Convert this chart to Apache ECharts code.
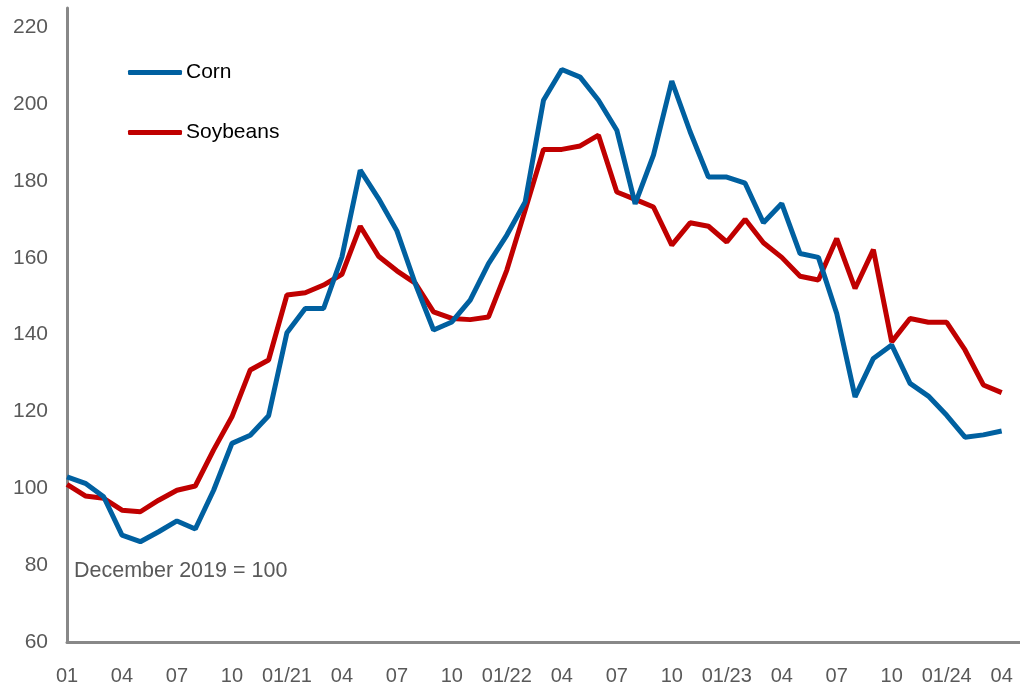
<!DOCTYPE html>
<html>
<head>
<meta charset="utf-8">
<script src="https://cdn.jsdelivr.net/npm/echarts@6/dist/echarts.min.js"></script>
<style>
  html, body { margin: 0; padding: 0; background: #fff; }
  #chart { width: 1020px; height: 687px; }
</style>
</head>
<body>
<div id="chart"></div>
<script>
// monthly, 01/2020 .. 04/2024 (December 2019 = 100)
var months = [
  '01','02','03','04','05','06','07','08','09','10','11','12',
  '01/21','02','03','04','05','06','07','08','09','10','11','12',
  '01/22','02','03','04','05','06','07','08','09','10','11','12',
  '01/23','02','03','04','05','06','07','08','09','10','11','12',
  '01/24','02','03','04'
];

var corn = [
  103, 101.3, 97.8, 87.8, 86.1, 88.7, 91.5, 89.4, 99.5, 111.7, 113.8, 118.9,
  140.5, 146.8, 146.8, 160.2, 182.8, 175.4, 167, 153.3, 141.2, 143.3, 149, 158.5,
  165.9, 174.5, 201, 209, 207, 201, 193.2, 174, 186.7, 206, 192.8, 181,
  181, 179.4, 169.1, 174.1, 161.1, 160.1, 145.5, 123.8, 133.8, 137.3, 127.3, 124,
  119, 113.3, 113.9, 114.9
];

var soybeans = [
  101, 98, 97.4, 94.3, 93.9, 96.9, 99.5, 100.6, 110, 118.6, 130.8, 133.4,
  150.3, 150.9, 152.9, 155.7, 168.2, 160.4, 156.6, 153.4, 145.9, 144.2, 143.9, 144.6,
  156.8, 172.4, 188.2, 188.2, 189.1, 191.9, 177.1, 175.2, 173.2, 163.3, 169.1, 168.2,
  164.1, 170, 163.9, 160.1, 155.2, 154.2, 165, 152, 162.1, 138.1, 144.2, 143.2,
  143.2, 136, 126.9, 124.9
];

var yTicks = [60, 80, 100, 120, 140, 160, 180, 200, 220];

var chart = echarts.init(document.getElementById('chart'));
var grey = '#595959';

var option = {
  backgroundColor: '#fff',
  animation: false,
  grid: { left: 67, right: 0, top: 8, bottom: 45 },
  legend: {
    orient: 'vertical',
    left: 128,
    top: 62,
    padding: 0,
    icon: 'roundRect',
    itemWidth: 54,
    itemHeight: 5,
    itemGap: 39,
    textStyle: { fontFamily: 'Liberation Sans', fontSize: 21, color: '#000', padding: [0, 0, 0, -1] },
    data: ['Corn', 'Soybeans']
  },
  xAxis: {
    type: 'category',
    boundaryGap: false,
    data: months.concat(['']),
    axisLine: { lineStyle: { color: '#888', width: 3 } },
    axisTick: { show: false },
    axisLabel: {
      interval: 2,
      color: grey,
      fontFamily: 'Liberation Sans',
      fontSize: 20,
      margin: 24
    },
    splitLine: { show: false }
  },
  yAxis: {
    type: 'value',
    min: 60,
    max: 225,
    interval: 20,
    axisLine: { show: true, lineStyle: { color: '#888', width: 3 } },
    axisTick: { show: false },
    splitLine: { show: false },
    axisLabel: {
      color: grey,
      fontFamily: 'Liberation Sans',
      fontSize: 21,
      margin: 19,
      formatter: function (v) { return yTicks.indexOf(v) >= 0 ? String(v) : ''; }
    }
  },
  graphic: [{
    type: 'text',
    left: 74,
    top: 560,
    style: { text: 'December 2019 = 100', fill: grey, font: '21.5px "Liberation Sans"' }
  }],
  series: [
    {
      name: 'Corn',
      type: 'line',
      data: corn,
      symbol: 'none',
      itemStyle: { color: '#0060A0' },
      lineStyle: { color: '#0060A0', width: 5 },
      z: 3
    },
    {
      name: 'Soybeans',
      type: 'line',
      data: soybeans,
      symbol: 'none',
      itemStyle: { color: '#C00000' },
      lineStyle: { color: '#C00000', width: 5 },
      z: 2
    }
  ]
};

option && chart.setOption(option);
</script>
</body>
</html>
